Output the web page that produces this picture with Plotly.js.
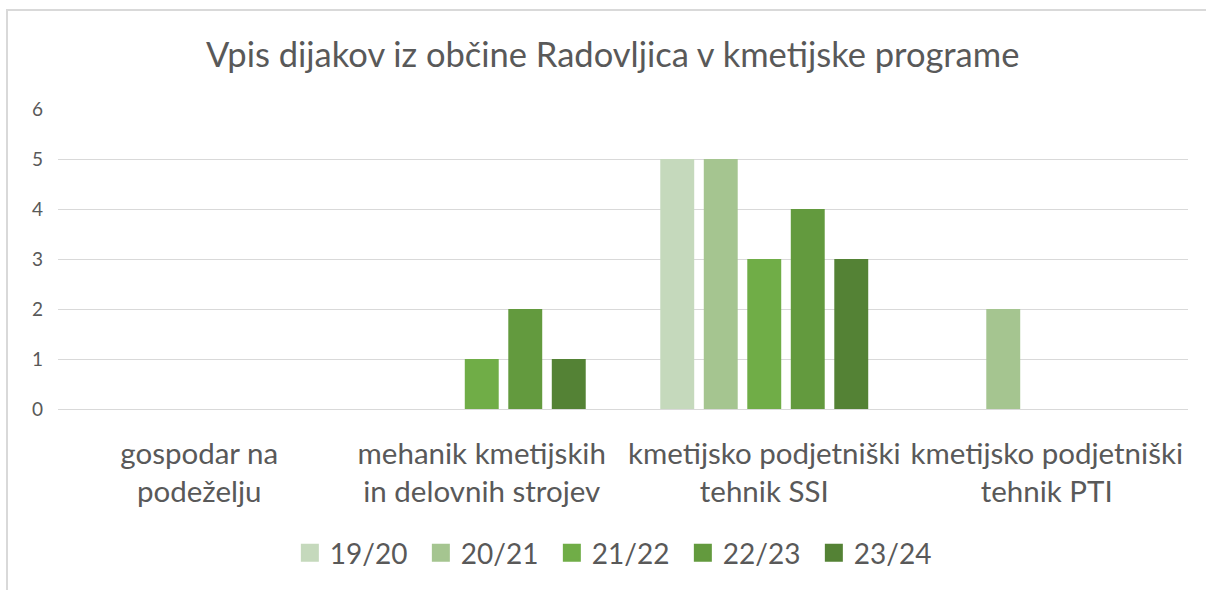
<!DOCTYPE html>
<html>
<head>
<meta charset="utf-8">
<script src="https://cdn.plot.ly/plotly-3.0.1.min.js"></script>
<style>
html,body{margin:0;padding:0;background:#fff;}
#wrap{position:relative;width:1206px;height:590px;}
#chart{position:absolute;left:0;top:0;width:1206px;height:590px;}
#frame{position:absolute;left:6px;top:9px;width:1210px;height:600px;border-left:2px solid #D9D9D9;border-top:2px solid #D9D9D9;pointer-events:none;}
</style>
</head>
<body>
<div id="wrap"><div id="chart"></div><div id="frame"></div></div>
<script>
const categories = ["gospodar na<br>podeželju", "mehanik kmetijskih<br>in delovnih strojev", "kmetijsko podjetniški<br>tehnik SSI", "kmetijsko podjetniški<br>tehnik PTI"];
const seriesNames = ["19/20", "20/21", "21/22", "22/23", "23/24"];
const v1920 = [0, 0, 5, 0];
const v2021 = [0, 0, 5, 2];
const v2122 = [0, 1, 3, 0];
const v2223 = [0, 2, 4, 0];
const v2324 = [0, 1, 3, 0];
const colors = ["#C5D9BC", "#A5C590", "#70AD47", "#639A3E", "#548235"];
const values = [v1920, v2021, v2122, v2223, v2324];

const font = "Lato, Carlito, Calibri, sans-serif";
const barTraces = seriesNames.map((n, i) => ({
  type: "bar", name: n, x: categories, y: values[i], legendgroup: n, showlegend: false,
  marker: {color: colors[i], line: {width: 0}},
  hoverinfo: "x+y+name"
}));
// legend-only entries with larger square swatches
const legendTraces = seriesNames.map((n, i) => ({
  type: "scatter", mode: "markers", name: n, x: [null], y: [null], legendgroup: n, showlegend: true,
  marker: {color: colors[i], symbol: "square", size: 16, line: {width: 2, color: colors[i]}},
  hoverinfo: "skip"
}));

const layout = {
  width: 1206, height: 590,
  paper_bgcolor: "#fff", plot_bgcolor: "#fff",
  margin: {l: 58, r: 18, t: 109, b: 181},
  title: {text: "Vpis dijakov iz občine Radovljica v kmetijske programe", font: {family: font, size: 34.5, color: "#595959"}, x: 0.508, xanchor: "center", y: 0.907, yanchor: "middle"},
  barmode: "group", bargap: 0.23, bargroupgap: 0.22,
  xaxis: {type: "category", showgrid: false, showline: false, zeroline: false, ticks: "", tickfont: {family: font, size: 29.5, color: "#595959"}, ticklabelstandoff: 24, automargin: false},
  yaxis: {range: [0, 6], dtick: 1, tick0: 0, showgrid: true, gridcolor: "#D9D9D9", gridwidth: 1, zeroline: true, zerolinecolor: "#D9D9D9", zerolinewidth: 1, showline: false, ticks: "", tickfont: {family: font, size: 19, color: "#595959"}, ticklabelstandoff: 14, automargin: false},
  showlegend: true,
  legend: {orientation: "h", x: 0.495, xanchor: "center", y: -0.48, yanchor: "middle", font: {family: font, size: 28, color: "#595959"}, traceorder: "normal", itemwidth: 30, itemsizing: "trace", entrywidth: 86, entrywidthmode: "pixels"}
};
Plotly.newPlot("chart", barTraces.concat(legendTraces), layout, {displayModeBar: false});
</script>
</body>
</html>
